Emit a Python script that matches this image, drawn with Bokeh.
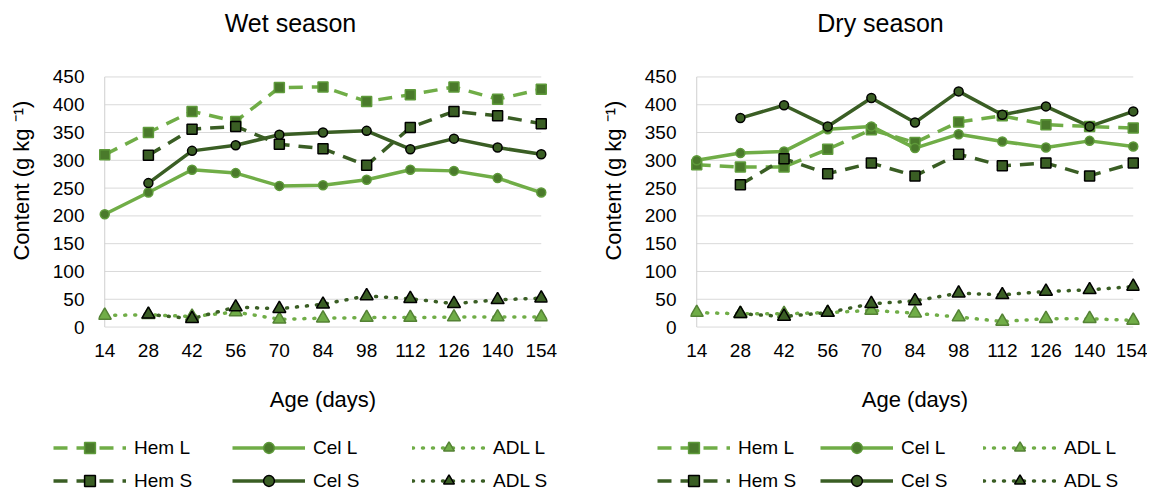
from bokeh.plotting import figure
from bokeh.models import Range1d, FixedTicker, Legend, LegendItem, Label
from bokeh.layouts import row, column
from bokeh.embed import file_html
from bokeh.resources import INLINE

NaN = float("nan")

ages = [14, 28, 42, 56, 70, 84, 98, 112, 126, 140, 154]
y_ticks = [0, 50, 100, 150, 200, 250, 300, 350, 400, 450]

# Wet season
hem_l_wet = [310, 350, 388, 370, 431, 432, 406, 418, 432, 410, 428]
hem_s_wet = [NaN, 309, 356, 361, 329, 321, 291, 359, 388, 380, 366]
cel_l_wet = [203, 242, 283, 277, 254, 255, 265, 283, 281, 268, 242]
cel_s_wet = [NaN, 259, 317, 327, 346, 350, 353, 320, 339, 323, 311]
adl_l_wet = [21, 22, 19, 27, 14, 16, 17, 17, 18, 18, 18]
adl_s_wet = [NaN, 23, 15, 36, 33, 41, 56, 51, 42, 49, 52]

# Dry season
hem_l_dry = [292, 288, 288, 320, 355, 332, 369, 380, 364, 361, 358]
hem_s_dry = [NaN, 256, 303, 276, 295, 272, 311, 290, 295, 272, 295]
cel_l_dry = [300, 313, 316, 356, 361, 322, 347, 334, 323, 335, 325]
cel_s_dry = [NaN, 376, 399, 361, 412, 368, 424, 382, 397, 361, 388]
adl_l_dry = [26, 24, 24, 26, 30, 25, 18, 10, 15, 15, 12]
adl_s_dry = [NaN, 24, 19, 26, 42, 47, 61, 58, 64, 67, 73]

series_labels = ["Hem L", "Cel L", "ADL L", "Hem S", "Cel S", "ADL S"]

FONT = "Liberation Sans"
LIGHT = "#70AD47"
LIGHT_MK = "#4A7A2B"
DARK = "#3A5E24"
GRID = "#D9D9D9"

STYLES = {
    "Hem L": dict(dash="14 9", color=LIGHT, marker="square", size=10, fill=LIGHT_MK, mline="#5E9A3A"),
    "Cel L": dict(dash="solid", color=LIGHT, marker="circle", size=9, fill=LIGHT_MK, mline="#5E9A3A"),
    "ADL L": dict(dash="1 9", color=LIGHT, marker="triangle", size=13, fill=LIGHT, mline="#548235"),
    "Hem S": dict(dash="14 9", color=DARK, marker="square", size=10, fill=DARK, mline="black"),
    "Cel S": dict(dash="solid", color=DARK, marker="circle", size=9, fill=DARK, mline="black"),
    "ADL S": dict(dash="1 9", color=DARK, marker="triangle", size=13, fill=DARK, mline="black"),
}


def bare_figure(width, height, xr=(0, 1)):
    f = figure(width=width, height=height, output_backend="svg", toolbar_location=None,
               x_range=Range1d(*xr), y_range=Range1d(0, 1),
               x_axis_type=None, y_axis_type=None,
               min_border_left=0, min_border_right=0, min_border_top=0, min_border_bottom=0)
    f.outline_line_color = None
    f.xgrid.visible = False
    f.ygrid.visible = False
    f.border_fill_color = "white"
    f.background_fill_color = "white"
    return f


def add_series(p, lab, xs, ys):
    st = STYLES[lab]
    lr = p.line(xs, ys, line_color=st["color"], line_width=3.5,
                line_dash=st["dash"], line_cap="round" if st["dash"] == "1 9" else "butt",
                line_join="round")
    sr = p.scatter(xs, ys, marker=st["marker"], size=st["size"],
                   fill_color=st["fill"], line_color=st["mline"], line_width=1.5)
    return [lr, sr]


def make_chart(data, width, border_left, border_right):
    p = figure(width=width, height=375, output_backend="svg", toolbar_location=None,
               x_range=Range1d(12, 156), y_range=Range1d(-8, 458),
               min_border_left=border_left, min_border_right=border_right,
               min_border_top=27, min_border_bottom=89)
    p.outline_line_color = None
    p.xgrid.visible = False
    p.ygrid.visible = False
    p.background_fill_color = "white"
    p.border_fill_color = "white"

    n = len(y_ticks)
    p.segment(x0=[ages[0]] * n, x1=[ages[-1]] * n, y0=y_ticks, y1=y_ticks,
              line_color=GRID, line_width=1)
    p.segment(x0=[ages[0]], x1=[ages[0]], y0=[y_ticks[0]], y1=[y_ticks[-1]],
              line_color="#CFCFCF", line_width=1)

    for lab in series_labels:
        add_series(p, lab, ages, data[lab])

    for ax in (p.xaxis[0], p.yaxis[0]):
        ax.axis_line_color = None
        ax.major_tick_line_color = None
        ax.minor_tick_line_color = None
        ax.major_label_text_font = FONT
        ax.major_label_text_font_size = "19px"
        ax.major_label_text_color = "black"
        ax.axis_label_text_font = FONT
        ax.axis_label_text_font_size = "22px"
        ax.axis_label_text_font_style = "normal"
        ax.axis_label_text_color = "black"
        ax.major_tick_out = 0
        ax.major_tick_in = 0

    p.xaxis.ticker = FixedTicker(ticks=ages)
    p.yaxis.ticker = FixedTicker(ticks=y_ticks)
    p.xaxis.axis_label = "Age (days)"
    p.yaxis.axis_label = "\u00a0" * 7 + "Content (g kg \u207b\u00b9)"
    p.xaxis.major_label_standoff = 12
    p.xaxis.axis_label_standoff = 27
    p.yaxis.major_label_standoff = 14
    p.yaxis.axis_label_standoff = 16
    return p


def make_title(text, width, cx):
    t = bare_figure(width, 45)
    t.add_layout(Label(x=cx, y=23, x_units="screen", y_units="screen", text=text,
                       text_align="center", text_baseline="middle", text_font=FONT,
                       text_font_size="25px", text_color="black"))
    return t


def make_legends(width, xs):
    # renderers sit outside the visible x range; they only supply the legend glyph styles
    lf = bare_figure(width, 74, xr=(-200, -100))
    rend = {lab: add_series(lf, lab, ages, wet[lab]) for lab in series_labels}
    cols = [["Hem L", "Hem S"], ["Cel L", "Cel S"], ["ADL L", "ADL S"]] * 2
    for x, col in zip(xs, cols):
        leg = Legend(items=[LegendItem(label=lab, renderers=rend[lab]) for lab in col],
                     location=(x, 0), orientation="vertical",
                     glyph_width=73, glyph_height=27, label_height=27, spacing=6,
                     padding=0, margin=0, border_line_color=None,
                     background_fill_alpha=0, label_standoff=8,
                     label_text_font=FONT, label_text_font_size="19px",
                     label_text_color="black")
        lf.add_layout(leg)
    return lf


wet = {"Hem L": hem_l_wet, "Cel L": cel_l_wet, "ADL L": adl_l_wet,
       "Hem S": hem_s_wet, "Cel S": cel_s_wet, "ADL S": adl_s_wet}
dry = {"Hem L": hem_l_dry, "Cel L": cel_l_dry, "ADL L": adl_l_dry,
       "Hem S": hem_s_dry, "Cel S": cel_s_dry, "ADL S": adl_s_dry}

W1, W2 = 594, 553
left = column(make_title("Wet season", W1, 192), make_chart(wet, W1, 98, 47))
right = column(make_title("Dry season", W2, 190), make_chart(dry, W2, 96, 8))
legends = make_legends(W1 + W2, [53, 232, 412, 657, 820, 983])

layout = column(row(left, right), legends)
open("out.html", "w").write(file_html(layout, INLINE))
